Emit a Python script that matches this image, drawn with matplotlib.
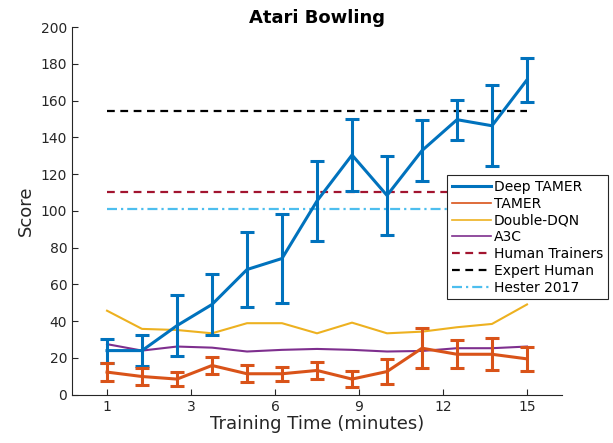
import numpy as np
import matplotlib
matplotlib.use("Agg")
import matplotlib.pyplot as plt
from matplotlib.lines import Line2D

# ---- data ----
step = np.arange(1, 14)  # 13 evaluation points
tick_labels = ["1", "3", "6", "9", "12", "15"]

deep_tamer = [24.0, 24.0, 37.6, 49.1, 68.1, 74.1, 105.4, 130.4, 108.4, 132.8, 149.6, 146.3, 171.3]
deep_tamer_err = [6.5, 8.6, 16.5, 16.7, 20.3, 24.4, 21.6, 19.5, 21.7, 16.7, 10.8, 22.0, 12.0]

tamer = [12.3, 9.9, 8.5, 15.9, 11.4, 11.4, 13.2, 8.5, 12.6, 25.3, 22.0, 22.0, 19.5]
tamer_err = [5.0, 4.8, 3.8, 4.8, 4.7, 3.9, 4.6, 4.5, 6.8, 10.8, 7.7, 8.6, 6.6]

double_dqn = [45.7, 35.8, 35.2, 33.4, 38.9, 38.9, 33.4, 39.2, 33.4, 34.3, 36.7, 38.5, 49.1]
a3c = [27.5, 24.0, 26.2, 25.6, 23.5, 24.4, 24.9, 24.4, 23.5, 23.8, 25.3, 25.3, 26.2]

human_trainers = 110.0
expert_human = 154.5
hester_2017 = 101.0

# ---- colors ----
c_blue = "#0072BD"
c_orange = "#D95319"
c_yellow = "#EDB120"
c_purple = "#7E2F8E"
c_red = "#A2142F"
c_black = "#000000"
c_light = "#4DBEEE"

fig = plt.figure(figsize=(6.13, 4.43), dpi=100)
ax = fig.add_axes([0.1175, 0.109, 0.7993, 0.830])

x0, x1 = step[0], step[-1]
ax.hlines(human_trainers, x0, x1, colors=c_red, linewidth=1.6, linestyles=(0, (3.5, 2.5)))
ax.hlines(expert_human, x0, x1, colors=c_black, linewidth=1.6, linestyles=(0, (3.5, 2.5)))
ax.hlines(hester_2017, x0, x1, colors=c_light, linewidth=1.6, linestyles=(0, (4.5, 1.8, 1.0, 1.8)))

ax.plot(step, double_dqn, color=c_yellow, linewidth=1.5)
ax.plot(step, a3c, color=c_purple, linewidth=1.5)
ax.errorbar(step, deep_tamer, yerr=deep_tamer_err, color=c_blue, linewidth=2.2,
            elinewidth=2.2, capsize=5, capthick=2.2)
ax.errorbar(step, tamer, yerr=tamer_err, color=c_orange, linewidth=2.2,
            elinewidth=2.2, capsize=5, capthick=2.2)

ax.set_xlim(0, 14)
ax.set_ylim(0, 200)
ax.set_yticks(np.arange(0, 201, 20))
ax.set_xticks(np.linspace(x0, x1, len(tick_labels)))
ax.set_xticklabels(tick_labels)
ax.tick_params(direction="in", length=4, width=0.8, labelsize=10, colors="#262626",
               labelcolor="#262626")
for s in ["top", "right"]:
    ax.spines[s].set_visible(False)
for s in ["left", "bottom"]:
    ax.spines[s].set_color("#262626")
    ax.spines[s].set_linewidth(0.8)

ax.set_title("Atari Bowling", fontsize=13, fontweight="bold", pad=3)
ax.set_xlabel("Training Time (minutes)", fontsize=13, labelpad=1, color="#262626")
ax.set_ylabel("Score", fontsize=13, labelpad=4, color="#262626")

handles = [
    Line2D([], [], color=c_blue, linewidth=2.2),
    Line2D([], [], color=c_orange, linewidth=1.2),
    Line2D([], [], color=c_yellow, linewidth=1.2),
    Line2D([], [], color=c_purple, linewidth=1.2),
    Line2D([], [], color=c_red, linewidth=1.6, linestyle=(0, (3.5, 2.5))),
    Line2D([], [], color=c_black, linewidth=1.6, linestyle=(0, (3.5, 2.5))),
    Line2D([], [], color=c_light, linewidth=1.6, linestyle=(0, (4.5, 1.8, 1.0, 1.8))),
]
labels = ["Deep TAMER", "TAMER", "Double-DQN", "A3C", "Human Trainers", "Expert Human", "Hester 2017"]
leg = ax.legend(handles, labels, loc="upper left", bbox_to_anchor=(0.765, 0.5975),
                borderaxespad=0, fontsize=10, frameon=True, fancybox=False,
                edgecolor="#262626", framealpha=1, handlelength=2.8, handletextpad=0.25,
                labelspacing=0.2, borderpad=0.35)
leg.get_frame().set_linewidth(0.8)
leg.set_zorder(10)

fig.savefig("out.png", dpi=100)
